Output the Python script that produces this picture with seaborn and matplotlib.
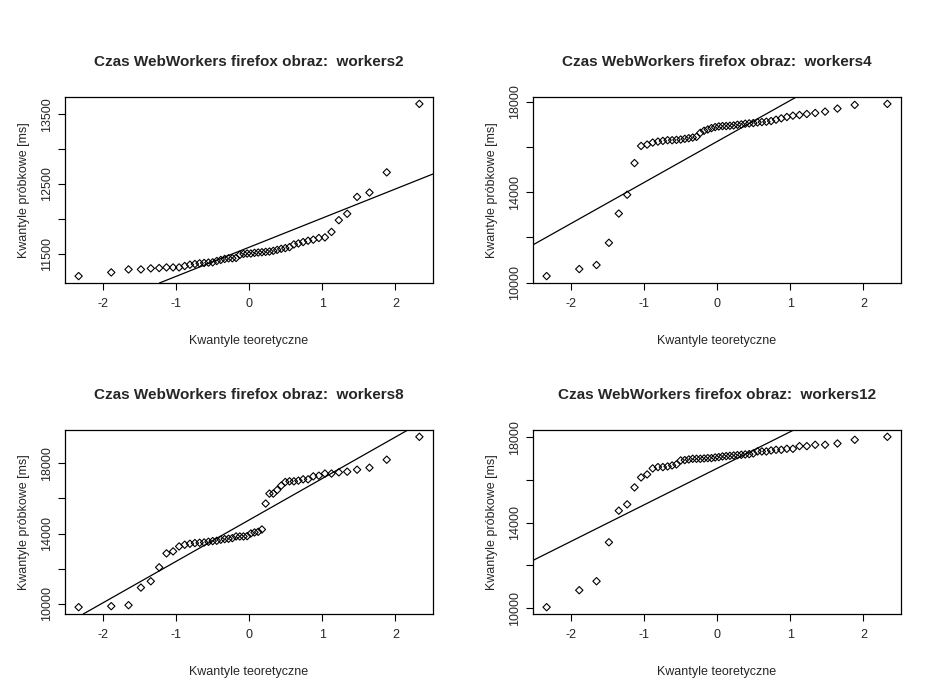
import numpy as np
import pandas as pd
import matplotlib
matplotlib.use("Agg")
import matplotlib.pyplot as plt
import seaborn as sns
from statistics import NormalDist

titles = ["Czas WebWorkers firefox obraz:  workers2", "Czas WebWorkers firefox obraz:  workers4",
          "Czas WebWorkers firefox obraz:  workers8", "Czas WebWorkers firefox obraz:  workers12"]

workers2 = [11176, 11229, 11272, 11272, 11287, 11292, 11301, 11301, 11301, 11321,
            11340, 11350, 11360, 11365, 11370, 11374, 11393, 11408, 11422, 11432,
            11432, 11437, 11481, 11495, 11500, 11500, 11510, 11515, 11519, 11524,
            11529, 11539, 11553, 11568, 11578, 11592, 11631, 11645, 11665, 11684,
            11699, 11723, 11732, 11810, 11979, 12071, 12313, 12376, 12666, 13649]
workers4 = [10283, 10595, 10773, 11755, 13048, 13881, 15279, 16037, 16097, 16186,
            16230, 16260, 16290, 16290, 16305, 16320, 16350, 16379, 16409, 16439,
            16617, 16706, 16766, 16825, 16870, 16900, 16915, 16915, 16929, 16944,
            16974, 16989, 17019, 17034, 17048, 17078, 17093, 17108, 17138, 17197,
            17257, 17316, 17376, 17405, 17450, 17494, 17554, 17688, 17851, 17896]
workers8 = [9811, 9868, 9924, 10927, 11286, 12080, 12874, 12988, 13271, 13366,
            13423, 13461, 13479, 13498, 13536, 13574, 13593, 13650, 13687, 13706,
            13744, 13839, 13839, 13839, 13858, 14009, 14066, 14103, 14236, 15711,
            16278, 16278, 16486, 16732, 16940, 16978, 16978, 17016, 17091, 17091,
            17261, 17299, 17420, 17420, 17488, 17526, 17640, 17753, 18207, 19512]
workers12 = [10047, 10842, 11263, 13087, 14568, 14864, 15659, 16127, 16267, 16548,
             16610, 16610, 16641, 16688, 16735, 16922, 16938, 16969, 17000, 17000,
             17000, 17016, 17031, 17031, 17062, 17078, 17109, 17125, 17140, 17156,
             17172, 17187, 17203, 17218, 17250, 17343, 17343, 17343, 17390, 17421,
             17421, 17468, 17468, 17592, 17592, 17655, 17655, 17717, 17889, 18029]
series = [workers2, workers4, workers8, workers12]
yticks = [[11500, 12000, 12500, 13000, 13500], [10000, 12000, 14000, 16000, 18000],
          [10000, 12000, 14000, 16000, 18000], [10000, 12000, 14000, 16000, 18000]]
ylabels_shown = [[11500, 12500, 13500], [10000, 14000, 18000], [10000, 14000, 18000], [10000, 14000, 18000]]
xticks = [-2, -1, 0, 1, 2]

sns.set_style("white")
plt.rcParams['font.family'] = ['Liberation Sans', 'DejaVu Sans']

fig = plt.figure(figsize=(9.34, 6.96), dpi=100)
W, H = 934, 696
boxes = [(65, 97, 433, 283), (533, 97, 901, 283), (65, 430, 433, 614), (533, 430, 901, 614)]
nd = NormalDist()
for k, (vals, (l, t, r, b)) in enumerate(zip(series, boxes)):
    ax = fig.add_axes([l / W, 1 - b / H, (r - l) / W, (b - t) / H])
    y = np.sort(np.array(vals, float))
    n = len(y)
    x = np.array([nd.inv_cdf((i + 0.5) / n) for i in range(n)])
    df = pd.DataFrame({"x": x, "y": y})
    sns.scatterplot(data=df, x="x", y="y", ax=ax, marker="D", s=14,
                    facecolors="none", edgecolor="black", linewidth=0.8)
    ax.axline((0, y.mean()), slope=y.std(ddof=1), color="black", lw=0.9)
    xr = x.max() - x.min(); yr = y.max() - y.min()
    ax.set_xlim(x.min() - 0.04 * xr, x.max() + 0.04 * xr)
    ax.set_ylim(y.min() - 0.04 * yr, y.max() + 0.04 * yr)
    ax.set_xticks(xticks)
    ax.set_xticklabels([str(v) for v in xticks], fontsize=9)
    ax.set_yticks(yticks[k])
    ax.set_yticklabels([str(v) if v in ylabels_shown[k] else "" for v in yticks[k]],
                       fontsize=9, rotation=90, va="center")
    ax.tick_params(axis="both", direction="out", length=5, width=0.8, color="black",
                   bottom=True, left=True)
    ax.tick_params(axis="x", pad=6)
    for s in ax.spines.values():
        s.set_color("black"); s.set_linewidth(0.9)
    ax.set_xlabel("Kwantyle teoretyczne", fontsize=9, labelpad=18)
    ax.set_ylabel("Kwantyle próbkowe [ms]", fontsize=9, labelpad=8)
    ax.set_title(titles[k], fontsize=11, fontweight="bold", pad=22)

fig.savefig("out.png", dpi=100, facecolor="white")
